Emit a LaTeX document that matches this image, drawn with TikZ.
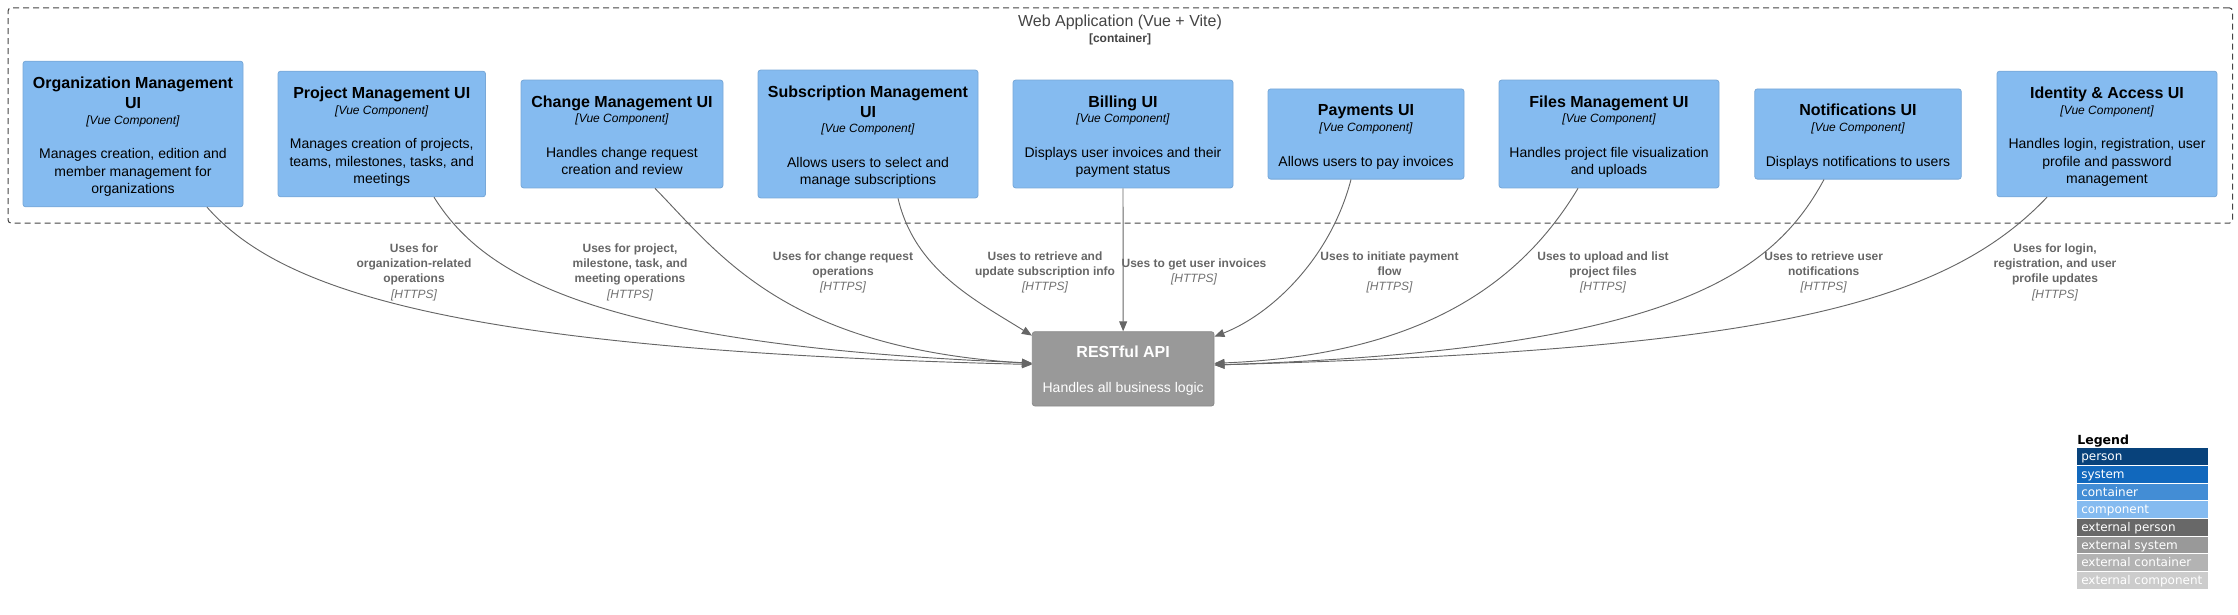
\documentclass[tikz,border=0pt]{standalone}
\usepackage{fontspec}
\setmainfont{Liberation Sans}
\newfontfamily\legendfont{DejaVu Sans}
\usetikzlibrary{arrows.meta,calc}
\definecolor{compfill}{HTML}{85BBF0}
\definecolor{compborder}{HTML}{78A8D8}
\definecolor{extfill}{HTML}{999999}
\definecolor{extborder}{HTML}{8A8A8A}
\definecolor{linkcol}{HTML}{666666}
\definecolor{httpscol}{HTML}{707070}
\definecolor{boundcol}{HTML}{444444}
\definecolor{lgperson}{HTML}{08427B}
\definecolor{lgsystem}{HTML}{1168BD}
\definecolor{lgcontainer}{HTML}{438DD5}
\definecolor{lgcomponent}{HTML}{85BBF0}
\definecolor{lgextperson}{HTML}{686868}
\definecolor{lgextsystem}{HTML}{999999}
\definecolor{lgextcontainer}{HTML}{B3B3B3}
\definecolor{lgextcomponent}{HTML}{CCCCCC}
\tikzset{
  boundary/.style={draw=boundcol, dash pattern=on 4.5pt off 3pt, rounded corners=2.5pt, line width=0.75pt, inner sep=0pt, anchor=north west},
  compbox/.style={rectangle, rounded corners=2pt, fill=compfill, draw=compborder, line width=0.6pt, inner sep=0pt},
  apibox/.style={rectangle, rounded corners=2pt, fill=extfill, draw=extborder, line width=0.6pt, inner sep=0pt},
  ctitle/.style={anchor=base, inner sep=0pt, font=\fontsize{12}{15}\selectfont\bfseries},
  ctech/.style={anchor=base, inner sep=0pt, font=\fontsize{9}{11}\selectfont\itshape},
  cdesc/.style={anchor=base, inner sep=0pt, font=\fontsize{10.5}{13.275}\selectfont},
  link/.style={draw=linkcol, line width=0.7pt, -{Triangle[length=7.5pt,width=6pt]}},
  lbl/.style={anchor=base, inner sep=0pt, text=linkcol, font=\fontsize{9}{11.6}\selectfont\bfseries},
  legrow/.style={anchor=north west, minimum width=98.25pt, minimum height=12.5pt, inner sep=0pt},
  legtext/.style={anchor=base west, inner sep=0pt, text=white, font=\legendfont\fontsize{9}{11}\selectfont},
}
\newcommand\httpslbl{{\mdseries\itshape\color{httpscol}[HTTPS]}}
\newcommand\comp[7]{%
  \pgfmathsetmacro\compH{90.2+20*(#4-1)+17.7*(#5-1)}%
  \pgfmathsetmacro\compTk{43.3+20*(#4-1)}%
  \pgfmathsetmacro\compDs{77.5+20*(#4-1)}%
  \node[compbox, minimum width=#3*0.75pt, minimum height=\compH*0.75pt] (#1) at (#2,134) {};
  \node[ctitle] (#1-title) at ($(#1.north)+(0,27.4)$) {\begin{tabular}[t]{@{}c@{}}#6\end{tabular}};
  \node[ctech] (#1-tech) at ($(#1.north)+(0,\compTk)$) {[Vue Component]};
  \node[cdesc] (#1-desc) at ($(#1.north)+(0,\compDs)$) {\begin{tabular}[t]{@{}c@{}}#7\end{tabular}};
}
\newcommand\lbl[4]{%
  \node[lbl] (#1) at (#2,#3) {\begin{tabular}[t]{@{}c@{}}#4\\ \httpslbl\end{tabular}};
}
\begin{document}
\begin{tikzpicture}[x=0.75pt, y=-0.75pt]
\useasboundingbox (0,0) rectangle (2238,614);

% container boundary
\node[boundary, minimum width=1668.4pt, minimum height=161.55pt] (webapp) at (7.5,7.3) {};
\node[anchor=base, inner sep=0pt, text=boundcol, font=\fontsize{12}{14}\selectfont] (webapp-title) at (1120,26.4) {Web Application (Vue + Vite)};
\node[anchor=base, inner sep=0pt, text=boundcol, font=\fontsize{9}{11}\selectfont\bfseries] (webapp-type) at (1120,42) {[container]};

% components
\comp{org}{133}{220}{2}{3}{Organization Management\\UI}{Manages creation, edition and\\member management for\\organizations}
\comp{proj}{381.75}{207.5}{1}{3}{Project Management UI}{Manages creation of projects,\\teams, milestones, tasks, and\\meetings}
\comp{chg}{622}{202}{1}{2}{Change Management UI}{Handles change request\\creation and review}
\comp{sub}{868}{220}{2}{2}{Subscription Management\\UI}{Allows users to select and\\manage subscriptions}
\comp{bill}{1123}{220}{1}{2}{Billing UI}{Displays user invoices and their\\payment status}
\comp{pay}{1366}{196}{1}{1}{Payments UI}{Allows users to pay invoices}
\comp{files}{1609}{220}{1}{2}{Files Management UI}{Handles project file visualization\\and uploads}
\comp{notif}{1858}{206.5}{1}{1}{Notifications UI}{Displays notifications to users}
\comp{ident}{2107}{220}{1}{3}{Identity \& Access UI}{Handles login, registration, user\\profile and password\\management}

% external API
\node[apibox, minimum width=181.7*0.75pt, minimum height=74.3*0.75pt] (api) at (1123.15,368.85) {};
\node[anchor=base, inner sep=0pt, text=white, font=\fontsize{12}{15}\selectfont\bfseries] (api-title) at ($(api.north)+(0,26.3)$) {RESTful API};
\node[anchor=base, inner sep=0pt, text=white, font=\fontsize{10.5}{13}\selectfont] (api-desc) at ($(api.north)+(0,61.6)$) {Handles all business logic};

% connectors
\draw[link] ($(org.south)+(74,0)$) .. controls (280,290) and (450,350) .. ($(api.west)+(0,-4.35)$);
\draw[link] ($(proj.south)+(52.25,0)$) .. controls (480,270) and (580,345) .. ($(api.west)+(0,-5.85)$);
\draw[link] ($(chg.south)+(33,0)$) .. controls (720,255) and (785,348) .. ($(api.west)+(0,-5.35)$);
\draw[link] ($(sub.south)+(30,0)$) .. controls (915,270) and (975,300) .. ($(api.north west)+(0,4.3)$);
\draw[link] (bill.south) -- (api.north);
\draw[link] ($(pay.south)+(-15,0)$) .. controls (1330,260) and (1270,315) .. ($(api.north east)+(0,5.3)$);
\draw[link] ($(files.south)+(-31,0)$) .. controls (1520,285) and (1420,355) .. ($(api.east)+(0,-5.55)$);
\draw[link] ($(notif.south)+(-34,0)$) .. controls (1770,280) and (1660,350) .. ($(api.east)+(0,-3.85)$);
\draw[link] ($(ident.south)+(-60,0)$) .. controls (1940,310) and (1750,350) .. ($(api.east)+(0,-3.85)$);

% connector labels
\lbl{l-org}{414}{252}{Uses for\\organization-related\\operations}
\lbl{l-proj}{630}{252}{Uses for project,\\milestone, task, and\\meeting operations}
\lbl{l-chg}{843}{260}{Uses for change request\\operations}
\lbl{l-sub}{1045}{260}{Uses to retrieve and\\update subscription info}
\lbl{l-bill}{1194}{267}{Uses to get user invoices}
\lbl{l-pay}{1389.5}{260}{Uses to initiate payment\\flow}
\lbl{l-files}{1603}{260}{Uses to upload and list\\project files}
\lbl{l-notif}{1823.7}{260}{Uses to retrieve user\\notifications}
\lbl{l-ident}{2055}{252}{Uses for login,\\registration, and user\\profile updates}

% legend
\node[anchor=base west, inner sep=0pt, font=\legendfont\bfseries\fontsize{9.4}{11}\selectfont] (legtitle) at (2077,444.7) {Legend};
\foreach \lab/\col [count=\i from 0] in {person/lgperson, system/lgsystem, container/lgcontainer, component/lgcomponent, external person/lgextperson, external system/lgextsystem, external container/lgextcontainer, external component/lgextcomponent} {
  \node[legrow, fill=\col] (leg\i) at (2077,448+17.7*\i) {};
  \node[legtext] (legt\i) at ($(leg\i.north west)+(4,12.7)$) {\lab};
}
\end{tikzpicture}
\end{document}
